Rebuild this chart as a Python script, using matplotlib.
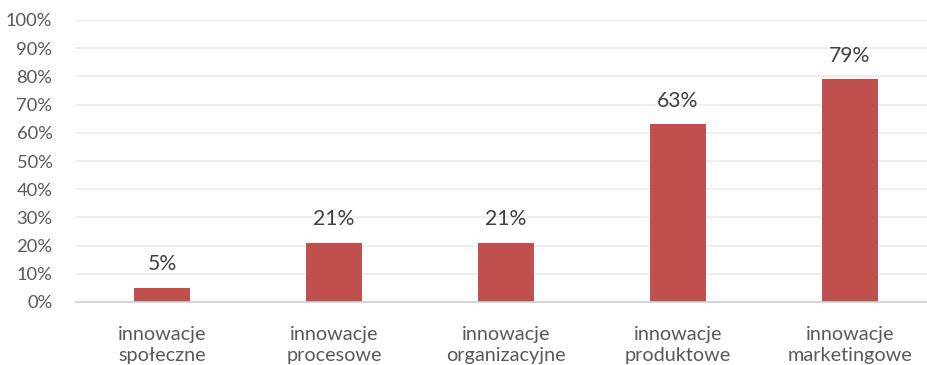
import matplotlib
matplotlib.use("Agg")
import matplotlib.pyplot as plt
from matplotlib.ticker import MultipleLocator, PercentFormatter

categories = ["innowacje\nspołeczne", "innowacje\nprocesowe", "innowacje\norganizacyjne",
              "innowacje\nproduktowe", "innowacje\nmarketingowe"]
values = [5, 21, 21, 63, 79]

plt.rcParams['font.family'] = ['Lato', 'DejaVu Sans']

W, H = 928, 365
fig = plt.figure(figsize=(W / 100, H / 100), dpi=100)
ax = fig.add_axes([76 / W, 63 / H, 860 / W, 282 / H])

x = range(len(categories))
ax.bar(x, values, width=0.32, color="#C0504D", zorder=3)
for xi, v in zip(x, values):
    ax.text(xi, v + 4.8, f"{v}%", ha="center", va="bottom", fontsize=15.2, color="#404040")

ax.set_xlim(-0.5, len(categories) - 0.5)
ax.set_ylim(0, 100)
ax.yaxis.set_major_locator(MultipleLocator(10))
ax.yaxis.set_major_formatter(PercentFormatter(decimals=0))
ax.grid(axis="y", color="#EBEBEB", linewidth=1.2, zorder=0)
ax.set_xticks(list(x))
ax.set_xticklabels(categories, fontsize=14.3, color="#595959", linespacing=1.33)
ax.tick_params(axis="y", labelsize=13.2, labelcolor="#595959", length=0, pad=17)
ax.tick_params(axis="x", length=0, pad=17)
for s in ["top", "right", "left"]:
    ax.spines[s].set_visible(False)
ax.spines["bottom"].set_color("#D0D0D0")
ax.spines["bottom"].set_linewidth(1.2)
ax.spines["bottom"].set_zorder(4)

fig.savefig("out.png", dpi=100)
